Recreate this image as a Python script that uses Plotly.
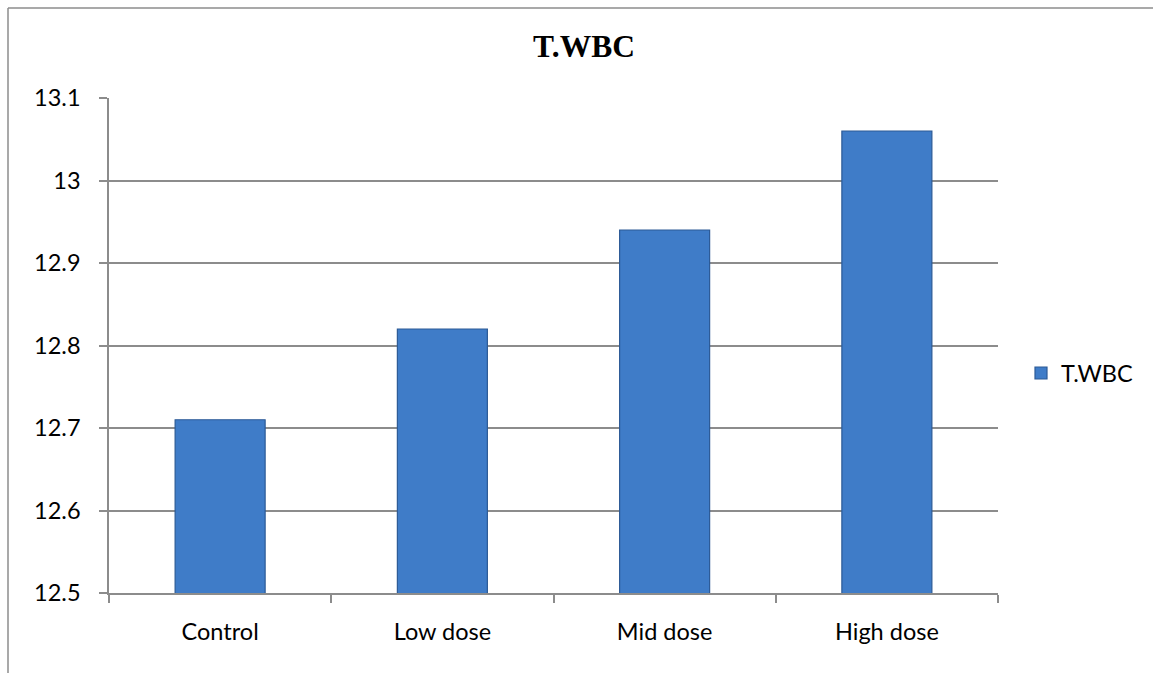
import plotly.graph_objects as go

categories = ["Control", "Low dose", "Mid dose", "High dose"]
values = [12.71, 12.82, 12.94, 13.06]
series_name = "T.WBC"
title_text = "T.WBC"
y_tickvals = [12.5, 12.6, 12.7, 12.8, 12.9, 13.0, 13.1]
y_ticktext = ["12.5", "12.6", "12.7", "12.8", "12.9", "13", "13.1"]

GRAY = "#8c8c8c"
LABEL_FONT = dict(family="Lato, 'Open Sans', sans-serif", size=23.5, color="#000000")

fig = go.Figure()
fig.add_trace(go.Bar(
    x=categories,
    y=values,
    name=series_name,
    marker=dict(color="#3f7cc8", line=dict(color="#2c5a96", width=1.2)),
    showlegend=True,
))

fig.update_layout(
    width=1153,
    height=673,
    margin=dict(l=109, r=155, t=98, b=80),
    paper_bgcolor="white",
    plot_bgcolor="white",
    bargap=0.595,
    title=dict(
        text="<b>" + title_text + "</b>",
        x=584 / 1153,
        xanchor="center",
        y=1 - 46 / 673,
        yanchor="middle",
        font=dict(family="'Liberation Serif', 'Times New Roman', serif", size=31.5, color="#000000"),
    ),
    legend=dict(
        x=(1021 - 109) / 889,
        xanchor="left",
        y=0.444,
        yanchor="middle",
        font=LABEL_FONT,
        bgcolor="rgba(0,0,0,0)",
    ),
    xaxis=dict(
        showline=True,
        linecolor=GRAY,
        linewidth=1.5,
        ticks="outside",
        tickson="boundaries",
        ticklen=8,
        tickcolor=GRAY,
        tickwidth=1.5,
        showgrid=False,
        tickfont=LABEL_FONT,
        ticklabelstandoff=17,
    ),
    yaxis=dict(
        range=[12.5, 13.1],
        tickvals=y_tickvals,
        ticktext=y_ticktext,
        showline=True,
        linecolor=GRAY,
        linewidth=1.5,
        ticks="outside",
        ticklen=8,
        tickcolor=GRAY,
        tickwidth=1.5,
        showgrid=True,
        gridcolor=GRAY,
        gridwidth=1.5,
        zeroline=False,
        tickfont=LABEL_FONT,
        ticklabelstandoff=14,
    ),
    shapes=[
        dict(type="line", xref="paper", yref="paper",
             x0=(8 - 109) / 889, x1=(1160 - 109) / 889,
             y0=(593 - 8) / 495, y1=(593 - 8) / 495,
             line=dict(color=GRAY, width=1.5)),
        dict(type="line", xref="paper", yref="paper",
             x0=(8 - 109) / 889, x1=(8 - 109) / 889,
             y0=(593 - 8) / 495, y1=(593 - 680) / 495,
             line=dict(color=GRAY, width=1.5)),
    ],
)

fig.write_html("out.html")
